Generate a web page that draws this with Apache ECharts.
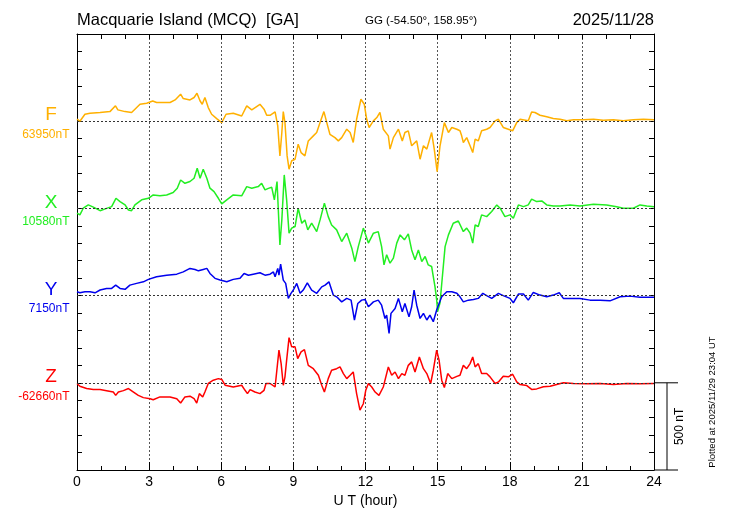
<!DOCTYPE html>
<html>
<head>
<meta charset="utf-8">
<script src="https://cdn.jsdelivr.net/npm/echarts@6/dist/echarts.min.js"></script>
<style>
html,body{margin:0;padding:0;background:#fff;}
#chart{width:730px;height:520px;}
</style>
</head>
<body>
<div id="chart"></div>
<script>
// ---- Data (UT hour, deviation from baseline in nT) ----
const X_TICKS = [0, 3, 6, 9, 12, 15, 18, 21, 24];
const COMPONENTS = ['F', 'X', 'Y', 'Z'];
const BASE_LABELS = ['63950nT', '10580nT', '7150nT', '-62660nT'];
const OFFSETS = [2000, 1500, 1000, 500];   // vertical placement of each trace (nT)
const SCALE_NT = 500;

const F_DATA = [[0,12],[0.12,0],[0.33,40],[0.54,46],[0.96,50],[1.37,55],[1.6,88],[1.7,65],[2.0,55],[2.27,50],[2.41,69],[2.62,97],[2.9,103],[3.15,116],[3.31,107],[3.66,107],[3.87,107],[4.08,122],[4.16,115],[4.31,155],[4.42,130],[4.7,122],[4.87,136],[4.99,160],[5.12,116],[5.21,97],[5.32,136],[5.46,78],[5.6,40],[5.81,15],[6.02,-8],[6.2,40],[6.5,46],[6.85,30],[7.06,88],[7.27,65],[7.61,97],[7.78,69],[7.89,34],[8.03,34],[8.1,34],[8.24,53],[8.35,-27],[8.44,-199],[8.52,-65],[8.58,55],[8.65,-8],[8.74,-199],[8.82,-275],[8.93,-227],[9.07,-218],[9.2,-132],[9.32,-180],[9.48,-199],[9.62,-113],[9.83,-84],[9.97,-65],[10.11,-8],[10.27,55],[10.39,-8],[10.52,-75],[10.73,-94],[10.87,-113],[11.01,-94],[11.22,-46],[11.36,-65],[11.49,-122],[11.63,11],[11.81,126],[11.95,97],[12.05,11],[12.15,-36],[12.33,2],[12.47,21],[12.6,50],[12.74,-46],[12.95,-84],[13.02,-160],[13.16,-94],[13.37,-46],[13.53,-113],[13.64,-65],[13.78,-55],[13.92,-141],[14.13,-113],[14.27,-218],[14.41,-141],[14.55,-160],[14.75,-65],[14.86,-160],[14.98,-290],[15.1,-141],[15.28,-8],[15.45,-65],[15.59,-36],[15.8,-46],[15.93,-55],[16.0,-84],[16.07,-122],[16.21,-94],[16.35,-141],[16.46,-180],[16.56,-103],[16.69,-113],[16.83,-55],[17.04,-46],[17.18,-36],[17.39,2],[17.53,11],[17.73,-36],[17.94,-46],[18.12,-55],[18.29,-8],[18.43,11],[18.77,2],[18.91,53],[19.05,50],[19.26,34],[19.54,25],[19.81,15],[20.09,11],[20.37,2],[20.65,8],[21.06,8],[21.48,11],[21.89,5],[22.31,8],[22.72,2],[23.14,8],[23.56,11],[24,8]];

const X_DATA = [[0,-27],[0.12,-37],[0.26,1],[0.47,20],[0.68,7],[0.96,-13],[1.23,0],[1.44,10],[1.62,58],[1.79,39],[2.0,20],[2.14,-9],[2.27,-13],[2.41,20],[2.69,49],[2.97,58],[3.17,77],[3.45,72],[3.73,77],[4.0,91],[4.17,116],[4.31,163],[4.49,144],[4.7,154],[4.87,173],[5.0,230],[5.12,173],[5.25,224],[5.4,173],[5.53,116],[5.7,96],[5.88,58],[6.02,26],[6.23,49],[6.5,77],[6.85,72],[7.06,125],[7.27,116],[7.54,125],[7.68,144],[7.82,106],[7.96,115],[8.1,121],[8.21,49],[8.32,154],[8.44,-209],[8.52,-66],[8.62,192],[8.72,49],[8.82,-142],[8.93,-113],[9.07,-104],[9.2,1],[9.35,-85],[9.48,-66],[9.6,-123],[9.76,-85],[9.97,-133],[10.11,-66],[10.29,30],[10.45,-47],[10.59,-95],[10.8,-123],[11.01,-190],[11.22,-142],[11.43,-228],[11.56,-305],[11.7,-219],[11.91,-113],[12.12,-199],[12.33,-142],[12.53,-133],[12.67,-219],[12.77,-324],[12.88,-266],[13.02,-314],[13.16,-285],[13.3,-199],[13.44,-152],[13.62,-180],[13.78,-146],[13.92,-238],[14.06,-295],[14.2,-238],[14.34,-305],[14.48,-276],[14.61,-324],[14.75,-333],[14.82,-391],[14.89,-448],[14.96,-524],[15.0,-591],[15.1,-541],[15.31,-219],[15.45,-152],[15.65,-85],[15.86,-72],[15.93,-66],[16.07,-133],[16.21,-113],[16.35,-142],[16.46,-199],[16.56,-95],[16.69,-104],[16.83,-37],[17.04,-47],[17.25,-18],[17.46,20],[17.6,1],[17.8,-47],[18.01,-37],[18.15,-56],[18.36,20],[18.57,10],[18.77,20],[18.91,53],[19.12,39],[19.33,43],[19.54,20],[19.81,14],[20.09,14],[20.51,20],[20.92,14],[21.48,24],[22.03,20],[22.45,10],[22.72,1],[23.14,1],[23.42,20],[23.7,14],[24,10]];

const Y_DATA = [[0,22],[0.12,16],[0.33,22],[0.54,22],[0.75,16],[0.96,32],[1.23,41],[1.44,41],[1.61,60],[1.79,41],[2.0,36],[2.2,60],[2.48,70],[2.76,79],[2.97,93],[3.31,108],[3.73,117],[4.15,123],[4.42,136],[4.7,156],[4.91,150],[5.05,142],[5.25,150],[5.4,156],[5.53,127],[5.74,99],[5.95,89],[6.23,79],[6.5,93],[6.78,99],[6.95,127],[7.13,117],[7.33,123],[7.61,131],[7.82,117],[8.03,123],[8.17,136],[8.24,108],[8.35,156],[8.4,117],[8.47,180],[8.58,89],[8.68,70],[8.79,-16],[8.9,13],[9.0,32],[9.14,70],[9.28,13],[9.41,32],[9.58,73],[9.76,32],[9.97,13],[10.18,50],[10.32,60],[10.48,79],[10.66,3],[10.8,-7],[11.01,-36],[11.22,-16],[11.4,-26],[11.54,-140],[11.68,-45],[11.84,-26],[11.98,-22],[12.12,-64],[12.33,-36],[12.53,-26],[12.67,-55],[12.81,-131],[12.88,-112],[12.98,-217],[13.06,-102],[13.23,-74],[13.37,-16],[13.53,-93],[13.64,-45],[13.81,-122],[13.92,-64],[14.02,32],[14.13,-55],[14.27,-131],[14.41,-102],[14.55,-140],[14.68,-112],[14.82,-150],[14.96,-83],[15.06,-45],[15.17,-7],[15.38,22],[15.59,22],[15.8,13],[15.93,-7],[16.07,-36],[16.28,-26],[16.49,-22],[16.69,-16],[16.88,13],[17.04,0],[17.25,-16],[17.53,13],[17.73,0],[18.01,-16],[18.15,-41],[18.36,9],[18.57,9],[18.77,-26],[18.98,18],[19.26,3],[19.54,-7],[19.81,3],[20.06,16],[20.23,-16],[20.51,-16],[20.92,-16],[21.34,-26],[21.76,-26],[22.17,-30],[22.59,-7],[23.0,-3],[23.42,-10],[24,-10]];

const Z_DATA = [[0,-4],[0.12,-20],[0.4,-33],[0.68,-39],[0.96,-39],[1.23,-45],[1.51,-53],[1.61,-72],[1.72,-53],[1.93,-45],[2.14,-33],[2.35,-53],[2.55,-72],[2.76,-85],[3.04,-91],[3.17,-97],[3.45,-81],[3.87,-81],[4.15,-91],[4.31,-116],[4.49,-81],[4.7,-77],[4.87,-91],[4.98,-116],[5.09,-62],[5.23,-81],[5.32,-53],[5.46,-4],[5.67,15],[5.88,24],[6.02,19],[6.16,-14],[6.5,-24],[6.85,-14],[6.99,-43],[7.09,-62],[7.2,-39],[7.4,-53],[7.61,-62],[7.78,-43],[7.86,-4],[8.03,-4],[8.1,-4],[8.24,-24],[8.4,187],[8.49,111],[8.58,-14],[8.65,34],[8.72,130],[8.82,259],[8.93,206],[9.07,206],[9.18,139],[9.32,177],[9.46,190],[9.62,100],[9.83,81],[10.04,43],[10.18,-14],[10.29,-53],[10.45,24],[10.59,72],[10.8,81],[10.94,91],[11.08,53],[11.22,24],[11.36,43],[11.49,62],[11.63,-62],[11.77,-157],[11.91,-120],[12.01,-43],[12.12,-4],[12.26,-24],[12.4,-53],[12.56,-72],[12.74,-24],[12.95,91],[13.09,43],[13.23,62],[13.37,24],[13.51,53],[13.64,43],[13.78,100],[13.92,120],[14.06,62],[14.24,148],[14.41,81],[14.55,53],[14.71,-4],[14.82,72],[14.96,187],[15.06,130],[15.17,15],[15.28,-27],[15.42,53],[15.59,24],[15.8,37],[15.93,43],[16.07,100],[16.21,81],[16.35,110],[16.46,148],[16.56,91],[16.69,110],[16.83,53],[17.04,53],[17.18,34],[17.39,-4],[17.53,5],[17.73,37],[17.94,34],[18.12,49],[18.29,5],[18.43,-10],[18.71,-16],[18.91,-38],[19.12,-35],[19.4,-23],[19.68,-20],[19.95,-10],[20.23,0],[20.65,-4],[21.2,-6],[21.76,-4],[22.31,-10],[22.87,-4],[23.42,-6],[24,-4]];

const SERIES_DATA = [F_DATA, X_DATA, Y_DATA, Z_DATA];
const COLORS = ['#ffb000', '#22ee22', '#0000ee', '#ff0000'];
const FONT = '"Liberation Sans", Arial, Helvetica, sans-serif';

const chart = echarts.init(document.getElementById('chart'), null, {renderer: 'canvas'});

const dotted = {type: [2, 2], color: '#555', width: 1};
const axLine = {show: true, onZero: false, lineStyle: {color: '#000', width: 1}};

const option = {
  animation: false,
  backgroundColor: '#fff',
  textStyle: {fontFamily: FONT},
  grid: {left: 77, right: 76, top: 34, bottom: 50, containLabel: false},
  xAxis: [
    {
      type: 'value', position: 'bottom', min: 0, max: 24, interval: 3,
      name: 'U T (hour)', nameLocation: 'middle', nameGap: 22,
      nameTextStyle: {fontSize: 14, color: '#000', fontFamily: FONT},
      axisLine: axLine,
      axisTick: {show: true, inside: true, length: 8, lineStyle: {color: '#000'}},
      minorTick: {show: true, splitNumber: 3, length: 4, lineStyle: {color: '#000'}},
      axisLabel: {show: true, fontSize: 14, color: '#000', margin: 5, fontFamily: FONT,
        formatter: v => X_TICKS.includes(v) ? String(v) : ''},
      splitLine: {show: true, showMinLine: false, showMaxLine: false, lineStyle: dotted}
    },
    {
      type: 'value', position: 'top', min: 0, max: 24, interval: 3,
      axisLine: axLine,
      axisTick: {show: true, inside: true, length: 5, lineStyle: {color: '#000'}},
      minorTick: {show: true, splitNumber: 3, length: 5, lineStyle: {color: '#000'}},
      axisLabel: {show: false},
      splitLine: {show: false}
    }
  ],
  yAxis: [
    {
      type: 'value', position: 'left', min: 0, max: 2500, interval: 100,
      axisLine: axLine,
      axisTick: {show: true, inside: true, length: 5, lineStyle: {color: '#000'}},
      axisLabel: {show: false},
      splitLine: {show: false}
    },
    {
      type: 'value', position: 'right', min: 0, max: 2500, interval: 100,
      axisLine: axLine,
      axisTick: {show: true, inside: true, length: 5, lineStyle: {color: '#000'}},
      axisLabel: {show: false},
      splitLine: {show: false}
    }
  ],
  series: SERIES_DATA.map((d, i) => ({
    type: 'line',
    name: COMPONENTS[i],
    xAxisIndex: 0, yAxisIndex: 0,
    data: d.map(p => [p[0], p[1] + OFFSETS[i]]),
    showSymbol: false,
    symbol: 'none',
    lineStyle: {color: COLORS[i], width: 1.5},
    itemStyle: {color: COLORS[i]},
    z: 3,
    markLine: {
      silent: true, symbol: 'none', animation: false,
      label: {show: false},
      lineStyle: {type: [2, 2], color: '#333', width: 1},
      emphasis: {disabled: true},
      data: [{yAxis: OFFSETS[i]}]
    }
  }))
};

chart.setOption(option);

// ---- Annotations placed relative to the axes ----
const g = [];
const px = (x, y) => chart.convertToPixel({xAxisIndex: 0, yAxisIndex: 0}, [x, y]);
const pBR = px(24, 0), pTL = px(0, 2500), pTR = px(24, 2500);

g.push({type: 'text', x: pTL[0], y: 20, style: {text: 'Macquarie Island (MCQ)  [GA]', font: '16.5px ' + FONT, fill: '#000', textAlign: 'left', textVerticalAlign: 'middle'}});
g.push({type: 'text', x: 365, y: 21, style: {text: 'GG (-54.50°, 158.95°)', font: '11.5px ' + FONT, fill: '#000', textAlign: 'left', textVerticalAlign: 'middle'}});
g.push({type: 'text', x: pTR[0], y: 20, style: {text: '2025/11/28', font: '16.5px ' + FONT, fill: '#000', textAlign: 'right', textVerticalAlign: 'middle'}});

COMPONENTS.forEach((c, i) => {
  const yb = px(0, OFFSETS[i])[1];
  g.push({type: 'text', x: 51, y: yb - 6, style: {text: c, font: '19px ' + FONT, fill: COLORS[i], textAlign: 'center', textVerticalAlign: 'middle'}});
  g.push({type: 'text', x: 69.5, y: yb + 13.5, style: {text: BASE_LABELS[i], font: '12px ' + FONT, fill: COLORS[i], textAlign: 'right', textVerticalAlign: 'middle'}});
});

// scale bar (500 nT) at right, aligned with Z baseline
const zTop = px(24, OFFSETS[3])[1];
const zBot = px(24, OFFSETS[3] - SCALE_NT)[1];
const xr = pBR[0];
g.push({type: 'line', shape: {x1: xr, y1: zTop, x2: xr + 24, y2: zTop}, style: {stroke: '#000', lineWidth: 1}});
g.push({type: 'line', shape: {x1: xr, y1: zBot, x2: xr + 24, y2: zBot}, style: {stroke: '#000', lineWidth: 1}});
g.push({type: 'line', shape: {x1: xr + 13, y1: zTop, x2: xr + 13, y2: zBot}, style: {stroke: '#000', lineWidth: 1}});
g.push({type: 'text', x: xr + 26, y: (zTop + zBot) / 2, rotation: Math.PI / 2, style: {text: '500 nT', font: '12px ' + FONT, fill: '#000', textAlign: 'center', textVerticalAlign: 'middle'}});
g.push({type: 'text', x: 712.5, y: 402, rotation: Math.PI / 2, style: {text: 'Plotted at 2025/11/29 23:04 UT', font: '9.5px ' + FONT, fill: '#000', textAlign: 'center', textVerticalAlign: 'middle'}});

chart.setOption({graphic: {elements: g}});
</script>
</body>
</html>
